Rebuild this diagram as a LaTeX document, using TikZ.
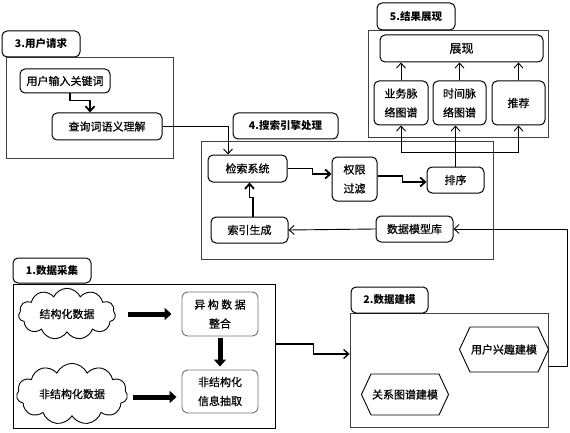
\documentclass[tikz,border=0pt]{standalone}
\usepackage{fontspec}
\setmainfont{Noto Sans CJK SC}
\newfontfamily\cjkm[FakeBold=0.6]{Noto Sans CJK SC}
\usetikzlibrary{arrows.meta,calc,shapes.symbols,shapes.geometric}
\begin{document}
\begin{tikzpicture}[x=1pt,y=-1pt,
  every node/.style={font=\cjkm\fontsize{11}{19}\selectfont, inner sep=1pt},
  frame/.style={draw=black!75, line width=0.8pt, inner sep=0pt},
  tag/.style={draw, rounded corners=5pt, line width=1pt, font=\fontsize{10.5}{12}\selectfont\bfseries},
  box/.style={draw, rounded corners=5pt, line width=1pt, align=center},
  gbox/.style={draw=black!55, rounded corners=6pt, line width=0.9pt, align=center},
  arr/.style={line width=0.9pt, -{Straight Barb[length=5pt,width=9pt]}},
  tarr/.style={line width=1.8pt, -{Straight Barb[length=5pt,width=9pt]}},
  blk/.style={line width=5pt, -{Triangle[length=7pt,width=12pt]}},
  hexa/.style={draw, line width=0.9pt, signal, signal to=east and west, signal pointer angle=130},
  cloudy/.style={draw, line width=0.9pt, cloud, cloud puffs=11, cloud puff arc=130, aspect=2.1},
]
\useasboundingbox (0,0) rectangle (570,433);

% frames
\node[frame, minimum width=167pt, minimum height=101pt] (box3) at (89.5,107.5) {};
\node[frame, minimum width=292pt, minimum height=118pt] (box4) at (347,200) {};
\node[frame, minimum width=180pt, minimum height=107pt] (box5) at (458,83.5) {};
\node[frame, draw=black, minimum width=262pt, minimum height=144pt] (box1) at (144,356) {};
\node[frame, minimum width=198pt, minimum height=114pt] (box2) at (449,370) {};

% tags
\node[tag, minimum width=78pt, minimum height=26pt] (lab3) at (41,44) {3.用户请求};
\node[tag, minimum width=105pt, minimum height=26pt] (lab4) at (285.5,126) {4.搜索引擎处理};
\node[tag, minimum width=78pt, minimum height=27pt] (lab5) at (416,16.5) {5.结果展现};
\node[tag, minimum width=78pt, minimum height=25pt] (lab1) at (52,270.5) {1.数据采集};
\node[tag, minimum width=77pt, minimum height=26pt] (lab2) at (389.5,300) {2.数据建模};

% section 3
\node[box, minimum width=90pt, minimum height=24pt] (n31) at (65,81) {用户输入关键词};
\node[box, minimum width=110pt, minimum height=27pt] (n32) at (107,126.5) {查询词语义理解};

% section 4
\node[box, minimum width=79pt, minimum height=27pt] (n41) at (247.5,168.5) {检索系统};
\node[box, minimum width=45pt, minimum height=44pt] (n42) at (354.5,179) {权限\\过滤};
\node[box, minimum width=57pt, minimum height=26pt] (n43) at (455.5,180) {排序};
\node[box, minimum width=77pt, minimum height=26pt] (n44) at (249.5,230) {索引生成};
\node[box, minimum width=77pt, minimum height=26pt] (n45) at (414.5,229) {数据模型库};

% section 5
\node[box, minimum width=163pt, minimum height=27pt, font=\cjkm\fontsize{12}{14}\selectfont] (n50) at (461.5,48.5) {展现};
\node[box, minimum width=54pt, minimum height=44pt] (n51) at (401,103) {业务脉\\络图谱};
\node[box, minimum width=53pt, minimum height=44pt] (n52) at (459.5,103) {时间脉\\络图谱};
\node[box, minimum width=53pt, minimum height=44pt] (n53) at (518.5,103) {推荐};

% section 1
\node[cloudy, minimum width=97pt, minimum height=46pt] (c1) at (67,314) {结构化数据};
\node[cloudy, minimum width=111pt, minimum height=48pt] (c2) at (72,394) {非结构化数据};
\node[gbox, minimum width=76pt, minimum height=44pt] (n11) at (220,314) {异 构 数 据\\整合};
\node[gbox, minimum width=76pt, minimum height=43pt] (n12) at (220,391.5) {非结构化\\信息抽取};

% section 2
\node[hexa, minimum width=82pt, minimum height=45pt] (h1) at (504,349.5) {用户兴趣建模};
\node[hexa, minimum width=84pt, minimum height=41pt] (h2) at (405,394.5) {关系图谱建模};

% connectors
\draw[tarr] ($(n31.south)+(5,0)$) -- ++(0,7) -| ($(n32.north)+(-17,0)$);
\draw[arr] (n32.east) -| ($(n41.north)+(-19.5,0)$);

\draw[tarr] (n41.east) -- ++(25,0) |- ($(n42.west)+(0,-5)$);
\draw[tarr] ($(n42.east)+(0,-3)$) -- ++(25,0) |- ($(n43.west)+(0,2)$);
\draw[tarr] ($(n44.north)+(3.5,0)$) -- ++(0,-19) -| ($(n41.south)+(2,0)$);
\draw[arr] (n45.west) -- (n44.east);

\coordinate (br) at ($(n43.north)+(0,-14)$);
\draw[arr] (n43.north) -- (n43.north |- n52.south);
\draw[arr] (br) -| (n51.south);
\draw[arr] (br) -| (n53.south);

\draw[arr] (n51.north) -- (n51.north |- n50.south);
\draw[arr] (n52.north) -- (n52.north |- n50.south);
\draw[arr] (n53.north) -- (n53.north |- n50.south);

\draw[blk, shorten <=12pt, shorten >=10pt] (c1.east) -- (c1.east -| n11.west);
\draw[blk, shorten <=5pt, shorten >=5pt] ($(c2.east)+(0,3)$) -- ($(c2.east -| n12.west)+(0,3)$);
\draw[blk, shorten <=2pt, shorten >=3pt] (n11.south) -- (n12.north);

\draw[arr, line width=1.3pt] ($(box1.east)+(0,-12)$) -- ++(38,0) |- ($(box2.west)+(0,-16)$);
\draw[arr] ($(box2.east)+(0,-4)$) -- ++(19,0) |- (n45.east);
\end{tikzpicture}
\end{document}
